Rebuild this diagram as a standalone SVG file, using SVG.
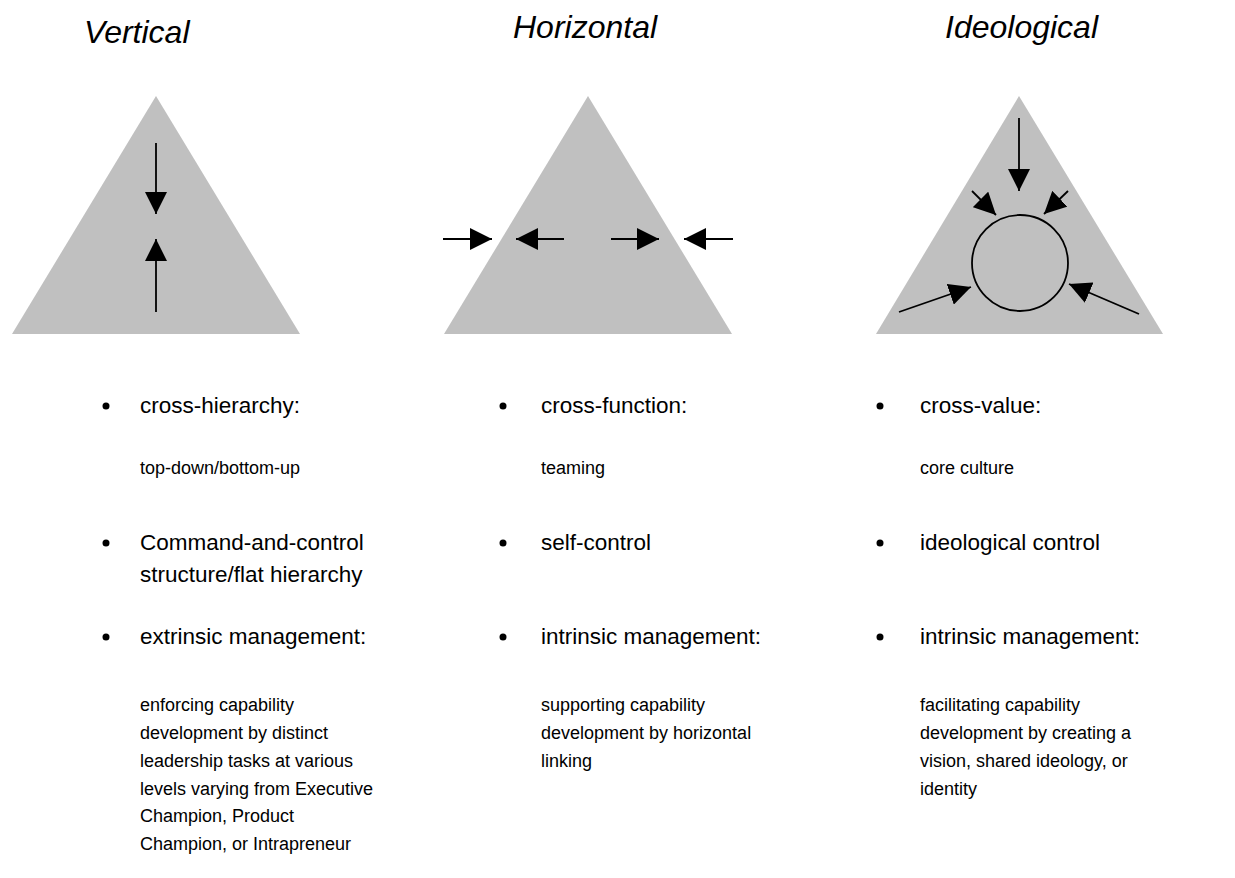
<svg xmlns="http://www.w3.org/2000/svg" width="1235" height="878" viewBox="0 0 1235 878">
<style>
.tri{fill:#c0c0c0;stroke:none}
.title{font-family:"Liberation Sans",Arial,sans-serif;font-style:italic;font-size:32px;fill:#000}
.b{font-family:"Liberation Sans",Arial,sans-serif;font-size:22.5px;fill:#000}
.s{font-family:"Liberation Sans",Arial,sans-serif;font-size:18px;fill:#000}
.arr{stroke:#000;stroke-width:1.8;fill:none;marker-end:url(#ah)}
.dot{fill:#000}
</style>
<defs>
<marker id="ah" markerUnits="userSpaceOnUse" markerWidth="22" markerHeight="22" refX="20" refY="10" orient="auto" viewBox="0 0 20 20">
<path d="M0,0 L20,10 L0,20 Z" fill="#000"/>
</marker>
</defs>
<g id="vertical">
<text class="title" x="84" y="43">Vertical</text>
<polygon class="tri" points="156,96 300,334 12,334"/>
</g>
<g id="horizontal">
<text class="title" x="513" y="38">Horizontal</text>
<polygon class="tri" points="588,96 732,334 444,334"/>
</g>
<g id="ideological">
<text class="title" x="945" y="38">Ideological</text>
<polygon class="tri" points="1019,96 1163,334 876,334"/>
<circle cx="1020" cy="263" r="48" fill="none" stroke="#000" stroke-width="1.8"/>
</g>
<g id="connectors">
<line class="arr" x1="156" y1="143" x2="156" y2="214"/>
<line class="arr" x1="156" y1="312" x2="156" y2="239"/>
<line class="arr" x1="443" y1="239" x2="492" y2="239"/>
<line class="arr" x1="564" y1="239" x2="516" y2="239"/>
<line class="arr" x1="611" y1="239" x2="659" y2="239"/>
<line class="arr" x1="733" y1="239" x2="684" y2="239"/>
<line class="arr" x1="1019" y1="118" x2="1019" y2="191"/>
<line class="arr" x1="972" y1="191" x2="996" y2="215"/>
<line class="arr" x1="1068" y1="191" x2="1044" y2="214"/>
<line class="arr" x1="899" y1="312" x2="971" y2="287"/>
<line class="arr" x1="1139" y1="314" x2="1069" y2="284"/>
</g>
<g id="text-vertical">
<circle class="dot" cx="106" cy="406" r="3.5"/>
<text class="b" x="140" y="413">cross-hierarchy:</text>
<text class="s" x="140" y="474">top-down/bottom-up</text>
<circle class="dot" cx="106" cy="543" r="3.5"/>
<text class="b" x="140" y="550">Command-and-control</text>
<text class="b" x="140" y="582">structure/flat hierarchy</text>
<circle class="dot" cx="106" cy="637" r="3.5"/>
<text class="b" x="140" y="644">extrinsic management:</text>
<text class="s" x="140" y="711">enforcing capability</text>
<text class="s" x="140" y="739">development by distinct</text>
<text class="s" x="140" y="767">leadership tasks at various</text>
<text class="s" x="140" y="795">levels varying from Executive</text>
<text class="s" x="140" y="822">Champion, Product</text>
<text class="s" x="140" y="850">Champion, or Intrapreneur</text>
</g>
<g id="text-horizontal">
<circle class="dot" cx="503" cy="406" r="3.5"/>
<text class="b" x="541" y="413">cross-function:</text>
<text class="s" x="541" y="474">teaming</text>
<circle class="dot" cx="503" cy="543" r="3.5"/>
<text class="b" x="541" y="550">self-control</text>
<circle class="dot" cx="503" cy="637" r="3.5"/>
<text class="b" x="541" y="644">intrinsic management:</text>
<text class="s" x="541" y="711">supporting capability</text>
<text class="s" x="541" y="739">development by horizontal</text>
<text class="s" x="541" y="767">linking</text>
</g>
<g id="text-ideological">
<circle class="dot" cx="880" cy="406" r="3.5"/>
<text class="b" x="920" y="413">cross-value:</text>
<text class="s" x="920" y="474">core culture</text>
<circle class="dot" cx="880" cy="543" r="3.5"/>
<text class="b" x="920" y="550">ideological control</text>
<circle class="dot" cx="880" cy="637" r="3.5"/>
<text class="b" x="920" y="644">intrinsic management:</text>
<text class="s" x="920" y="711">facilitating capability</text>
<text class="s" x="920" y="739">development by creating a</text>
<text class="s" x="920" y="767">vision, shared ideology, or</text>
<text class="s" x="920" y="795">identity</text>
</g>
</svg>
